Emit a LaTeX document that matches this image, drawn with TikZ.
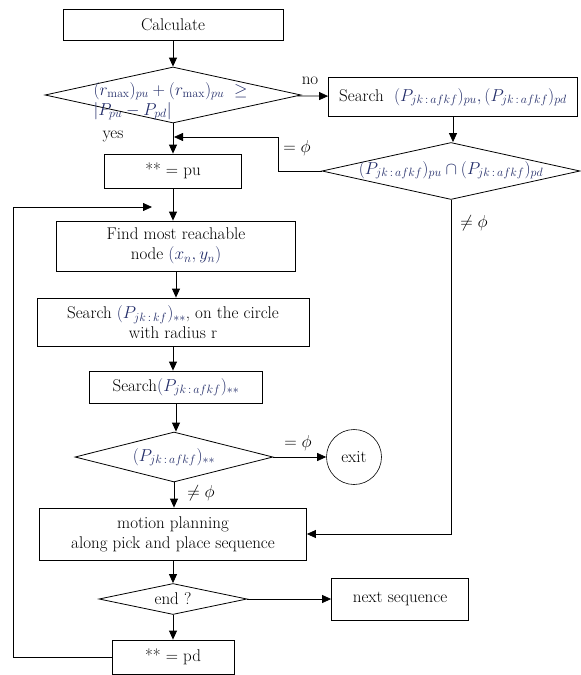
\documentclass[tikz,border=0pt]{standalone}
\usepackage{amsmath}
\usetikzlibrary{shapes.geometric,arrows.meta}
\definecolor{eqblue}{RGB}{35,45,105}
\newcommand{\Pset}[1]{P_{jk\,:\,#1}}
\tikzset{
  box/.style={draw, line width=0.8pt, inner sep=2pt, align=center},
  decision/.style={draw, diamond, line width=0.8pt, inner sep=0pt},
  eq/.style={text=eqblue},
  flow/.style={line width=0.8pt, -{Triangle[length=9pt,width=8pt]}},
}
\begin{document}
\begin{tikzpicture}[x=1pt,y=-1pt,font=\fontsize{17}{20}\selectfont]
      \useasboundingbox (0,0) rectangle (581,675);
      % main column
      \node[box, minimum width=220pt, minimum height=31pt] (calc) at (173,25) {Calculate};
      \node[decision, minimum width=256pt, minimum height=56pt] (cond) at (173,95) {};
      \node[eq, align=left, anchor=west] (condtxt) at (90,101)
        {$(r_{\max})_{pu}+(r_{\max})_{pu}\ \geq$\\$|P_{pu}-P_{pd}|$};
      \node[box, minimum width=137pt, minimum height=34pt] (pu) at (173,171) {** = pu};
      \node[box, minimum width=239pt, minimum height=50pt] (find) at (176,246)
        {Find most reachable\\node $\color{eqblue}(x_n,y_n)$};
      \node[box, minimum width=272pt, minimum height=48pt] (near) at (173,322)
        {Search $\color{eqblue}(\Pset{kf})_{**}$, on the circle\\with radius r};
      \node[box, minimum width=173pt, minimum height=32pt] (far) at (176,387)
        {Search$\color{eqblue}(\Pset{afkf})_{**}$};
      \node[decision, minimum width=198pt, minimum height=50pt] (found) at (174,457) {};
      \node[eq] (foundtxt) at (174,457) {$(\Pset{afkf})_{**}$};
      \node[box, minimum width=267pt, minimum height=52pt] (motion) at (173,534)
        {motion planning\\along pick and place sequence};
      \node[decision, minimum width=148pt, minimum height=31pt] (end) at (173,599) {};
      \node (endtxt) at (173,599) {end ?};
      \node[box, minimum width=122pt, minimum height=34pt] (pd) at (173,657) {** = pd};
      % right side
      \node[box, minimum width=249pt, minimum height=39pt] (search) at (453,97)
        {Search~~$\color{eqblue}(\Pset{afkf})_{pu},(\Pset{afkf})_{pd}$};
      \node[decision, minimum width=258pt, minimum height=57pt] (inter) at (451,171) {};
      \node[eq] (intertxt) at (451,170) {$(\Pset{afkf})_{pu}\cap(\Pset{afkf})_{pd}$};
      \node[draw, circle, line width=0.6pt, minimum size=55pt, inner sep=0pt] (exit) at (354,457) {exit};
      \node[box, minimum width=137pt, minimum height=42pt] (next) at (400,599) {next sequence};
      % labels
      \node (yes) at (113,136) {yes};
      \node (no) at (310,81) {no};
      \node (eqa) at (297,148) {$=\phi$};
      \node (nea) at (474,223) {$\neq\phi$};
      \node (eqb) at (298,443) {$=\phi$};
      \node (neb) at (201,493) {$\neq\phi$};
      % helper points
      \coordinate (phibend) at (278,137);
      \coordinate (phijoin) at (174,137);
      \coordinate (loopin) at (152,207);
      \coordinate (loopx) at (13,207);
      \begin{scope}[flow]
        \draw (calc) -- (cond);
        \draw (cond) -- (pu);
        \draw (pu) -- (pu |- find.north);
        \draw (find) -- (find |- near.north);
        \draw (near) -- (near |- far.north);
        \draw (far) -- (far |- found.north);
        \draw (found) -- (found |- motion.north);
        \draw (motion) -- (end);
        \draw (end) -- (pd);
        \draw (cond) -- (search);
        \draw (search) -- (search |- inter.north);
        \draw (inter.west) -| (phibend) -- (phijoin);
        \draw (inter.south) |- (motion.east);
        \draw (found) -- (exit);
        \draw (end) -- (next);
        \draw (pd.west) -| (loopx) -- (loopin);
      \end{scope}
    \end{tikzpicture}
\end{document}
